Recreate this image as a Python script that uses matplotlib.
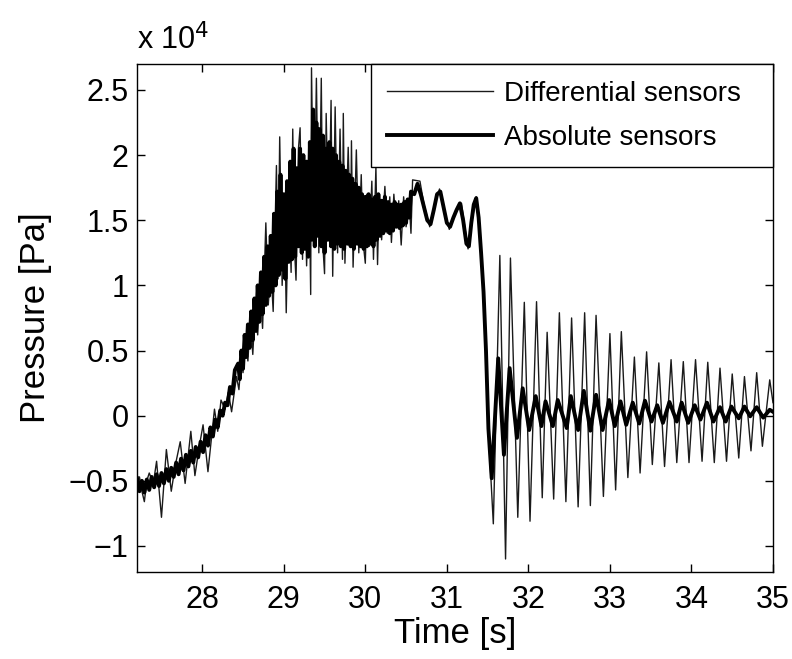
import matplotlib
matplotlib.use("Agg")
import matplotlib.pyplot as plt
from matplotlib.ticker import FuncFormatter

plt.rcParams['font.family'] = ['Liberation Sans', 'DejaVu Sans']

# pressure values in units of 1e4 Pa
t_diff = [27.20, 27.23, 27.26, 27.29, 27.32, 27.35, 27.40, 27.44, 27.50, 27.56,
          27.62, 27.67, 27.73, 27.79, 27.86, 27.91, 27.96, 28.01, 28.07, 28.15,
          28.19, 28.23, 28.28, 28.32, 28.36, 28.42,
          28.45, 28.48, 28.50, 28.53, 28.56, 28.59, 28.62, 28.65, 28.68, 28.71,
          28.74, 28.78, 28.81, 28.84, 28.87, 28.91, 28.93, 28.95, 28.98, 29.01,
          29.03, 29.06, 29.09, 29.11, 29.13, 29.15, 29.18, 29.20, 29.23, 29.25,
          29.28, 29.31, 29.33, 29.34, 29.37, 29.40, 29.43, 29.46, 29.48, 29.50,
          29.52, 29.55, 29.58, 29.60, 29.63, 29.66, 29.69, 29.72, 29.73, 29.75,
          29.79, 29.82, 29.83, 29.85, 29.89, 29.92, 29.95, 29.97, 30.00, 30.02,
          30.05, 30.08, 30.10, 30.13, 30.15, 30.17, 30.20, 30.24, 30.27, 30.30,
          30.32, 30.35, 30.38, 30.41, 30.44, 30.47, 30.50, 30.54, 30.56, 30.58,
          30.67, 30.72, 30.79, 30.85, 30.91, 30.96, 31.03, 31.10, 31.18, 31.22,
          31.26, 31.31, 31.36, 31.40, 31.44, 31.48, 31.52,
          31.57, 31.65, 31.72, 31.78, 31.87, 31.95, 32.02, 32.10, 32.17, 32.23,
          32.31, 32.38, 32.46, 32.53, 32.61, 32.69, 32.76, 32.83, 32.92, 33.00,
          33.07, 33.14, 33.22, 33.30, 33.37, 33.45, 33.52, 33.60, 33.67, 33.75,
          33.82, 33.90, 33.97, 34.05, 34.13, 34.20, 34.28, 34.35, 34.43, 34.50,
          34.58, 34.65, 34.73, 34.80, 34.87, 34.96, 35.00]
p_diff = [-0.55, -0.47, -0.58, -0.66, -0.50, -0.44, -0.52, -0.35, -0.78, -0.26,
          -0.58, -0.38, -0.20, -0.52, -0.12, -0.46, -0.25, -0.07, -0.43, 0.05,
          -0.12, 0.12, 0.05, 0.18, 0.03, 0.30,
          0.20, 0.45, 0.33, 0.60, 0.42, 0.75, 0.47, 0.85, 0.62, 0.98,
          0.67, 1.48, 0.85, 1.15, 0.80, 1.92, 1.05, 2.14, 1.00, 1.55,
          0.79, 1.70, 1.10, 2.20, 1.30, 1.04, 2.05, 2.21, 1.20, 1.94,
          1.15, 1.85, 0.93, 2.67, 1.30, 2.59, 1.25, 2.59, 1.30, 1.09,
          2.32, 1.35, 2.42, 1.07, 2.37, 1.25, 2.20, 1.20, 2.32, 1.17,
          2.06, 1.30, 2.11, 1.14, 2.04, 1.25, 1.85, 1.35, 1.17, 1.70,
          1.30, 1.80, 1.20, 1.91, 1.16, 1.70, 1.35, 1.76, 1.40, 1.68,
          1.33, 1.70, 1.45, 1.65, 1.31, 1.68, 1.45, 1.62, 1.40, 1.81,
          1.80, 1.62, 1.45, 1.62, 1.74, 1.58, 1.43, 1.55, 1.63, 1.45,
          1.28, 1.50, 1.68, 1.45, 1.09, 0.53, -0.24,
          -0.83, 1.23, -1.10, 1.21, -0.78, 0.87, -0.81, 0.875, -0.63, 0.64,
          -0.64, 0.79, -0.66, 0.75, -0.70, 0.79, -0.69, 0.77, -0.62, 0.63,
          -0.57, 0.645, -0.475, 0.45, -0.44, 0.49, -0.375, 0.405, -0.39, 0.43,
          -0.36, 0.415, -0.36, 0.43, -0.35, 0.41, -0.36, 0.365, -0.35, 0.32,
          -0.325, 0.30, -0.27, 0.33, -0.235, 0.275, 0.10]

t_abs = [27.20, 27.23, 27.26, 27.29, 27.32, 27.35, 27.38, 27.41, 27.44, 27.47,
         27.50, 27.53, 27.56, 27.59, 27.62, 27.65, 27.68, 27.71, 27.74, 27.77,
         27.80, 27.83, 27.86, 27.89, 27.92, 27.95, 27.98, 28.01, 28.04, 28.07,
         28.10, 28.13, 28.16, 28.19, 28.22, 28.25, 28.28, 28.31, 28.34, 28.37,
         28.40,
         28.44, 28.46, 28.48, 28.50, 28.52, 28.54, 28.56, 28.58, 28.60, 28.62,
         28.64, 28.66, 28.68, 28.70, 28.72, 28.74, 28.76, 28.78, 28.80, 28.82,
         28.84, 28.86, 28.88, 28.90, 28.92, 28.94, 28.96, 28.98, 29.00, 29.02,
         29.04, 29.06, 29.08, 29.10, 29.12, 29.14, 29.16, 29.18, 29.20, 29.22,
         29.24, 29.26, 29.28, 29.30, 29.32, 29.34, 29.36, 29.38, 29.40, 29.42,
         29.44, 29.46, 29.48, 29.50, 29.52, 29.54, 29.56, 29.58, 29.60, 29.62,
         29.64, 29.66, 29.68, 29.70, 29.72, 29.74, 29.76, 29.78, 29.80, 29.82,
         29.84, 29.86, 29.88, 29.90, 29.92, 29.94, 29.96, 29.98, 30.00, 30.02,
         30.04, 30.06, 30.08, 30.10, 30.12, 30.14, 30.16, 30.18, 30.20, 30.22,
         30.24, 30.26, 30.28, 30.30, 30.32, 30.34, 30.36, 30.38, 30.40, 30.42,
         30.44, 30.46, 30.48, 30.50, 30.52, 30.54, 30.56,
         30.60, 30.64, 30.68, 30.72, 30.76, 30.80, 30.84, 30.88, 30.92,
         30.96, 31.00, 31.04, 31.08, 31.12, 31.16, 31.20, 31.24, 31.27, 31.30,
         31.33, 31.36, 31.39, 31.42, 31.45, 31.48, 31.51,
         31.55, 31.63, 31.70, 31.77, 31.86, 31.93, 32.01, 32.09, 32.16, 32.21,
         32.30, 32.36, 32.47, 32.52, 32.61, 32.68, 32.76, 32.83, 32.91, 32.99,
         33.06, 33.13, 33.20, 33.28, 33.36, 33.43, 33.51, 33.58, 33.65, 33.73,
         33.82, 33.88, 33.96, 34.04, 34.11, 34.19, 34.27, 34.35, 34.42, 34.49,
         34.58, 34.65, 34.72, 34.80, 34.88, 34.96, 35.00]
p_abs = [-0.48, -0.58, -0.50, -0.59, -0.49, -0.57, -0.47, -0.55, -0.45, -0.54,
         -0.44, -0.52, -0.41, -0.50, -0.40, -0.47, -0.36, -0.45, -0.33, -0.42,
         -0.30, -0.39, -0.27, -0.36, -0.24, -0.32, -0.20, -0.28, -0.15, -0.23,
         -0.09, -0.16, -0.03, -0.09, 0.04, 0.00, 0.10, 0.08, 0.22, 0.17,
         0.35,
         0.40, 0.28, 0.50, 0.36, 0.62, 0.45, 0.70, 0.52, 0.80, 0.58,
         0.90, 0.65, 1.00, 0.72, 1.10, 0.78, 1.22, 0.85, 1.30, 0.92,
         1.38, 0.95, 1.55, 1.00, 1.72, 1.08, 1.85, 1.12, 1.70, 1.05,
         1.80, 1.18, 1.95, 1.20, 2.05, 1.22, 1.90, 1.30, 2.05, 1.25,
         2.00, 1.28, 1.95, 1.22, 2.10, 1.35, 2.35, 1.30, 2.25, 1.38,
         2.20, 1.30, 2.15, 1.25, 2.05, 1.35, 2.10, 1.30, 2.05, 1.28,
         2.00, 1.32, 1.95, 1.30, 1.92, 1.28, 1.88, 1.32, 1.85, 1.30,
         1.82, 1.28, 1.78, 1.32, 1.75, 1.30, 1.70, 1.28, 1.68, 1.30,
         1.70, 1.32, 1.66, 1.30, 1.68, 1.35, 1.70, 1.38, 1.65, 1.40,
         1.68, 1.42, 1.64, 1.40, 1.62, 1.42, 1.64, 1.45, 1.62, 1.44,
         1.62, 1.46, 1.64, 1.48, 1.66, 1.52, 1.72,
         1.70, 1.78, 1.70, 1.60, 1.50, 1.47, 1.58, 1.70, 1.72,
         1.60, 1.48, 1.45, 1.52, 1.58, 1.63, 1.50, 1.32, 1.30, 1.48,
         1.62, 1.67, 1.52, 1.25, 0.95, 0.50, -0.10,
         -0.48, 0.44, -0.30, 0.365, -0.17, 0.21, -0.11, 0.15, -0.08, 0.11,
         -0.08, 0.12, -0.095, 0.15, -0.11, 0.19, -0.115, 0.16, -0.11, 0.12,
         -0.08, 0.11, -0.07, 0.10, -0.06, 0.115, -0.045, 0.08, -0.055, 0.105,
         -0.045, 0.10, -0.055, 0.08, -0.03, 0.10, -0.045, 0.065, -0.045, 0.07,
         -0.02, 0.07, -0.005, 0.065, -0.015, 0.045, 0.03]

x_ticks = [28, 29, 30, 31, 32, 33, 34, 35]
y_ticks = [-1, -0.5, 0, 0.5, 1, 1.5, 2, 2.5]

fig = plt.figure(figsize=(7.92, 6.59), dpi=100)
ax = fig.add_axes([0.173, 0.132, 0.803, 0.771])

ax.plot(t_diff, p_diff, color='0.1', lw=1.0, label='Differential sensors  ')
ax.plot(t_abs, p_abs, color='black', lw=2.8, label='Absolute sensors')

ax.set_xlim(27.2, 35)
ax.set_ylim(-1.2, 2.7)
ax.set_xticks(x_ticks)
ax.set_yticks(y_ticks)
ax.yaxis.set_major_formatter(
    FuncFormatter(lambda v, pos: ('%g' % v).replace('-', '\u2212')))
ax.tick_params(direction='in', length=6, width=1, labelsize=22,
               top=True, right=True)
ax.tick_params(axis='x', pad=9)
ax.tick_params(axis='y', pad=6)
for s in ax.spines.values():
    s.set_linewidth(1)

ax.set_xlabel('Time [s]', fontsize=25, labelpad=2)
ax.set_ylabel('Pressure [Pa]', fontsize=25, labelpad=12)
ax.text(0, 1.015, 'x 10$^4$', transform=ax.transAxes, fontsize=22,
        ha='left', va='bottom')

leg = ax.legend(loc='upper right', borderaxespad=0, fontsize=20,
                fancybox=False, framealpha=1, edgecolor='black',
                handlelength=3.8, handletextpad=0.4, borderpad=0.6,
                labelspacing=0.65)
leg.get_frame().set_linewidth(1)

fig.savefig('out.png', dpi=100)
